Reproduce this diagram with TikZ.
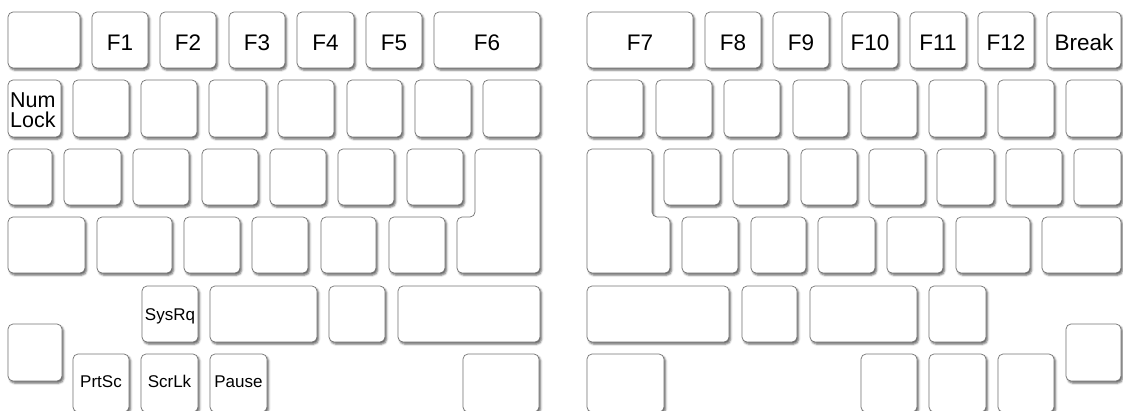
\documentclass[tikz,border=0pt]{standalone}
\usepackage{fontspec}
\setmainfont{Liberation Sans}
\usetikzlibrary{shadows.blur}
\definecolor{keyedge}{RGB}{115,115,115}
\tikzset{
  keyshape/.style={draw=keyedge, line width=0.7pt, fill=white, rounded corners=5pt,
    blur shadow={shadow xshift=1.6pt, shadow yshift=-2.1pt, shadow blur radius=2pt, shadow opacity=60}},
  keybox/.style={keyshape, rectangle, inner sep=0pt},
  biglbl/.style={font=\fontsize{22.5}{22.5}\selectfont, anchor=base, inner sep=0pt},
  numlbl/.style={font=\fontsize{21.5}{21.5}\selectfont, anchor=base west, inner sep=0pt, text height=15pt, text depth=0pt},
  smalllbl/.style={font=\fontsize{17}{17}\selectfont, anchor=base, inner sep=0pt},
}
\newcommand\kk[5]{\node[keybox, minimum width={#4-#2}, minimum height={#5-#3}] (#1) at ({(#2+#4)/2},{(#3+#5)/2}) {};}
\begin{document}
\begin{tikzpicture}[x=1pt,y=-1pt]
\useasboundingbox (0,0) rectangle (1123,410);
\clip (0,0) rectangle (1123,410);
% row 1
\kk{esc}{8}{12}{80}{68}
\kk{f1}{92}{12}{148}{68}
\kk{f2}{160}{12}{216}{68}
\kk{f3}{229}{12}{285}{68}
\kk{f4}{297}{12}{354}{68}
\kk{f5}{366}{12}{422}{68}
\kk{f6}{434}{12}{540}{68}
\kk{f7}{587}{12}{693}{68}
\kk{f8}{705}{12}{761}{68}
\kk{f9}{773}{12}{829}{68}
\kk{f10}{842}{12}{898}{68}
\kk{f11}{910}{12}{966}{68}
\kk{f12}{978}{12}{1034}{68}
\kk{brk}{1047}{12}{1121}{68}
% row 2
\kk{numlk}{8}{80}{61}{137}
\kk{a2}{73}{80}{129}{137}
\kk{a3}{141}{80}{197}{137}
\kk{a4}{209}{80}{266}{137}
\kk{a5}{278}{80}{334}{137}
\kk{a6}{347}{80}{402}{137}
\kk{a7}{415}{80}{471}{137}
\kk{a8}{483}{80}{540}{137}
\kk{b1}{587}{80}{643}{137}
\kk{b2}{656}{80}{712}{137}
\kk{b3}{724}{80}{780}{137}
\kk{b4}{793}{80}{848}{137}
\kk{b5}{861}{80}{917}{137}
\kk{b6}{929}{80}{985}{137}
\kk{b7}{998}{80}{1054}{137}
\kk{b8}{1066}{80}{1121}{137}
% row 3
\kk{c1}{8}{149}{52}{205}
\kk{c2}{64}{149}{121}{205}
\kk{c3}{133}{149}{189}{205}
\kk{c4}{202}{149}{258}{205}
\kk{c5}{270}{149}{326}{205}
\kk{c6}{338}{149}{394}{205}
\kk{c7}{407}{149}{463}{205}
\kk{d2}{664}{149}{720}{205}
\kk{d3}{733}{149}{788}{205}
\kk{d4}{801}{149}{857}{205}
\kk{d5}{869}{149}{925}{205}
\kk{d6}{937}{149}{994}{205}
\kk{d7}{1006}{149}{1062}{205}
\kk{d8}{1074}{149}{1121}{205}
% L-shaped keys
\draw[keyshape] (475,149) -- (540,149) -- (540,273) -- (457,273) -- (457,217) -- (475,217) -- cycle;
\draw[keyshape] (587,149) -- (652,149) -- (652,217) -- (670,217) -- (670,273) -- (587,273) -- cycle;
% row 4
\kk{e1}{8}{217}{85}{273}
\kk{e2}{97}{217}{172}{273}
\kk{e3}{184}{217}{240}{273}
\kk{e4}{252}{217}{308}{273}
\kk{e5}{321}{217}{376}{273}
\kk{e6}{389}{217}{445}{273}
\kk{g1}{682}{217}{738}{273}
\kk{g2}{751}{217}{806}{273}
\kk{g3}{818}{217}{875}{273}
\kk{g4}{887}{217}{943}{273}
\kk{g5}{956}{217}{1030}{273}
\kk{g6}{1042}{217}{1121}{273}
% row 5
\kk{sysrq}{142}{286}{198}{342}
\kk{h2}{210}{286}{317}{342}
\kk{h3}{329}{286}{385}{342}
\kk{h4}{398}{286}{540}{342}
\kk{i1}{587}{286}{729}{342}
\kk{i2}{742}{286}{797}{342}
\kk{i3}{810}{286}{917}{342}
\kk{i4}{929}{286}{986}{342}
% lone keys
\kk{lone1}{8}{324}{62}{381}
\kk{lone2}{1066}{324}{1121}{381}
% row 6
\kk{prtsc}{73}{354}{129}{412}
\kk{scrlk}{141}{354}{198}{412}
\kk{pause}{210}{354}{267}{412}
\kk{j4}{463}{354}{539}{412}
\kk{k1}{587}{354}{664}{412}
\kk{k2}{861}{354}{917}{412}
\kk{k3}{929}{354}{986}{412}
\kk{k4}{998}{354}{1054}{412}
% labels
\node[biglbl] (lf1) at (120,50) {F1};
\node[biglbl] (lf2) at (188,50) {F2};
\node[biglbl] (lf3) at (257,50) {F3};
\node[biglbl] (lf4) at (325.5,50) {F4};
\node[biglbl] (lf5) at (394,50) {F5};
\node[biglbl] (lf6) at (487,50) {F6};
\node[biglbl] (lf7) at (640,50) {F7};
\node[biglbl] (lf8) at (733,50) {F8};
\node[biglbl] (lf9) at (801,50) {F9};
\node[biglbl] (lf10) at (870,50) {F10};
\node[biglbl] (lf11) at (938,50) {F11};
\node[biglbl] (lf12) at (1006,50) {F12};
\node[biglbl] (lbrk) at (1084,50) {Break};
\node[numlbl] (lnum) at (10,107.5) {Num};
\node[numlbl] (llock) at (10,127) {Lock};
\node[smalllbl] (lsys) at (170,320) {SysRq};
\node[smalllbl] (lprt) at (101,387) {PrtSc};
\node[smalllbl] (lscr) at (169.5,387) {ScrLk};
\node[smalllbl] (lpau) at (238.5,387) {Pause};
\end{tikzpicture}
\end{document}
